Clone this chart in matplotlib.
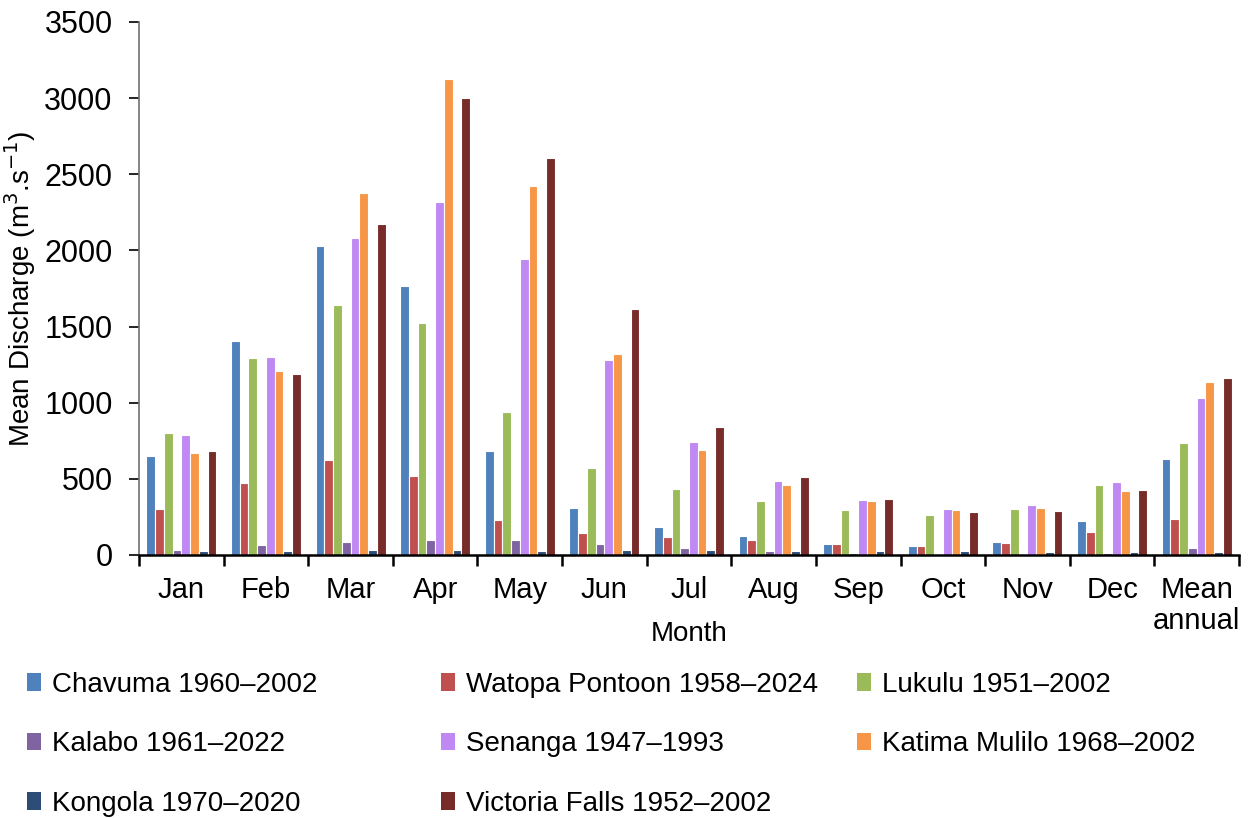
import matplotlib
matplotlib.use("Agg")
import matplotlib.pyplot as plt
from matplotlib.patches import Patch
import numpy as np

plt.rcParams["font.family"] = ["Liberation Sans", "DejaVu Sans"]

# ---------------------------------------------------------------
#  Data
# ---------------------------------------------------------------
months = ["Jan", "Feb", "Mar", "Apr", "May", "Jun", "Jul", "Aug",
          "Sep", "Oct", "Nov", "Dec", "Mean\nannual"]

stations = ["Chavuma 1960\u20132002", "Watopa Pontoon 1958\u20132024",
            "Lukulu 1951\u20132002", "Kalabo 1961\u20132022",
            "Senanga 1947\u20131993", "Katima Mulilo 1968\u20132002",
            "Kongola 1970\u20132020", "Victoria Falls 1952\u20132002"]

chavuma  = [650, 1405, 2029, 1766, 683, 307, 184, 123, 74, 61, 87, 223, 630]
watopa   = [302, 471, 622, 519, 230, 146, 116, 97, 74, 61, 81, 153, 234]
lukulu   = [799, 1293, 1641, 1523, 939, 571, 433, 354, 297, 265, 302, 461, 735]
kalabo   = [33, 64, 87, 98, 97, 72, 46, 28, 13, 9, 4, 13, 46]
senanga  = [790, 1300, 2081, 2318, 1941, 1278, 740, 486, 363, 302, 330, 477, 1033]
katima   = [672, 1208, 2377, 3125, 2421, 1320, 689, 460, 356, 297, 311, 422, 1136]
kongola  = [24, 28, 33, 33, 24, 33, 33, 28, 28, 26, 20, 20, 22]
victoria = [681, 1188, 2173, 3000, 2604, 1617, 840, 512, 370, 284, 291, 429, 1164]

series = [chavuma, watopa, lukulu, kalabo, senanga, katima, kongola, victoria]
colors = ["#4F81BD", "#C0504D", "#9BBB59", "#8064A2",
          "#C088F2", "#F79646", "#2C4D75", "#772C2A"]

# ---------------------------------------------------------------
#  Figure
# ---------------------------------------------------------------
fig = plt.figure(figsize=(12.48, 8.18), dpi=100)
ax = fig.add_axes([139/1248, 1-555/818, (1239-139)/1248, (555-22)/818])

x = np.arange(len(months))
w = 0.1034
for i, vals in enumerate(series):
    ax.bar(x + (i - 3.5)*w, vals, width=w, color=colors[i],
           edgecolor="white", linewidth=0.8, label=stations[i])

ax.set_xlim(-0.5, len(months)-0.5)
ax.set_ylim(0, 3500)
ax.set_yticks(np.arange(0, 3501, 500))
ax.tick_params(axis="y", labelsize=22, direction="out", length=7, width=1.2, pad=12)

# boundaries get tick marks, labels sit in the middle of each group
ax.set_xticks(np.arange(-0.5, len(months), 1.0))
ax.set_xticklabels([])
ax.set_xticks(x, minor=True)
ax.set_xticklabels(months, minor=True, fontsize=21, linespacing=1.15,
                   va="top")
ax.tick_params(axis="x", which="major", direction="out", length=8, width=1.8)
ax.tick_params(axis="x", which="minor", length=0, pad=15)

for side in ["top", "right"]:
    ax.spines[side].set_visible(False)
ax.spines["bottom"].set_linewidth(1.8)
ax.spines["left"].set_linewidth(1.2)
ax.spines["left"].set_color("#707070")

ax.set_xlabel("Month", fontsize=20)
ax.xaxis.set_label_coords(0.5, -0.123)
ax.set_ylabel("Mean Discharge (m$^{3}$.s$^{-1}$)", fontsize=20)
ax.yaxis.set_label_coords(-0.092, 0.5)

# legend: three equal-width columns, filled row by row
handles = [Patch(facecolor=c) for c in colors]
cols = [[0, 3, 6], [1, 4, 7], [2, 5]]
col_x = [27, 441, 857]
for cx, idx in zip(col_x, cols):
    fig.legend([handles[k] for k in idx], [stations[k] for k in idx],
               loc="upper left", bbox_to_anchor=(cx/1248, 1-672/818),
               frameon=False, fontsize=20, handlelength=0.5,
               handleheight=0.6, handletextpad=0.4, labelspacing=1.2,
               borderpad=0, borderaxespad=0)

fig.savefig("out.png", dpi=100)
